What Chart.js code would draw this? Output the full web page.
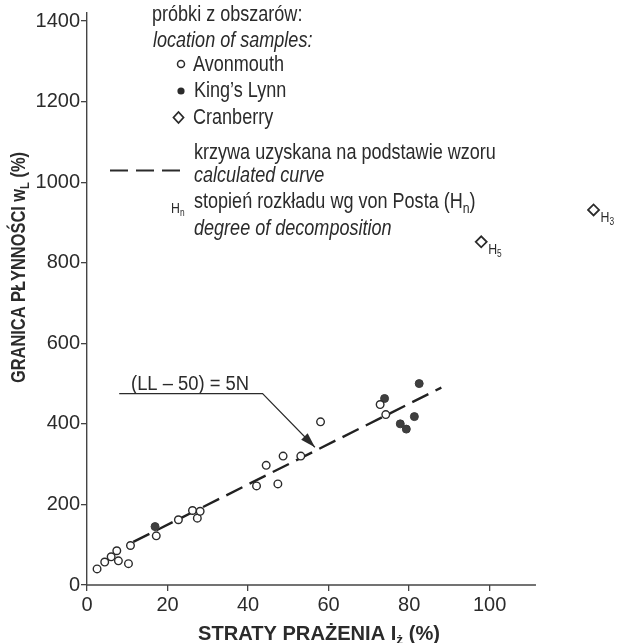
<!DOCTYPE html>
<html>
<head>
<meta charset="utf-8">
<script src="https://cdn.jsdelivr.net/npm/chart.js@4.4.1/dist/chart.umd.min.js"></script>
<style>
    html, body { margin: 0; padding: 0; background: #fff; }
    #wrap { width: 623px; height: 643px; }
</style>
</head>
<body>
<div id="wrap"><canvas id="chartGranica" width="623" height="643"></canvas></div>
<script>
// Dane (straty prażenia vs granica płynności)
const avonmouthX = [2.5, 4.4, 6.0, 7.4, 7.8, 10.3, 10.8, 17.2, 22.7, 26.2, 27.4, 28.1, 42.1, 44.5, 47.4, 48.7, 53.1, 58.0, 72.8, 74.2];
const avonmouthY = [40, 57, 70, 85, 60, 53, 98, 122, 162, 185, 166, 183, 246, 297, 251, 320, 320, 405, 448, 423];
const kingsLynnX = [16.9, 73.9, 77.8, 79.3, 81.3, 82.5];
const kingsLynnY = [145, 463, 400, 387, 418, 500];
const cranberryX = [97.9, 125.8];
const cranberryY = [852, 931];
const cranberryH = ['5', '3'];
const krzywaX = [11.5, 88];
const krzywaY = [107, 490];
const xTicks = [0, 20, 40, 60, 80, 100];
const yTicks = [0, 200, 400, 600, 800, 1000, 1200, 1400];

const kolorTekstu = '#2b2b2b';
const fontBaza = '"Liberation Sans", Arial, Helvetica, sans-serif';

function punkty(xs, ys) {
    return xs.map((x, i) => ({ x: x, y: ys[i] }));
}

// tekst zwężony w poziomie (jak Helvetica Narrow)
function tekst(ctx, txt, x, y, font, skala) {
    ctx.save();
    ctx.font = font;
    ctx.translate(x, y);
    ctx.scale(skala, 1);
    ctx.fillText(txt, 0, 0);
    const w = ctx.measureText(txt).width * skala;
    ctx.restore();
    return w;
}

// tekst z indeksem dolnym: czesci [tekst, czyIndeks]
function tekstZIndeksem(ctx, czesci, x, y, rozmiar, styl, skala) {
    let pos = x;
    czesci.forEach(([t, sub]) => {
        const r = sub ? rozmiar * 0.68 : rozmiar;
        const dy = sub ? rozmiar * 0.22 : 0;
        pos += tekst(ctx, t, pos, y + dy, `${styl} ${r}px ${fontBaza}`, skala);
    });
    return pos - x;
}

function szerokoscZIndeksem(ctx, czesci, rozmiar, styl) {
    let w = 0;
    ctx.save();
    czesci.forEach(([t, sub]) => {
        const r = sub ? rozmiar * 0.68 : rozmiar;
        ctx.font = `${styl} ${r}px ${fontBaza}`;
        w += ctx.measureText(t).width;
    });
    ctx.restore();
    return w;
}

const rysunekPlugin = {
    id: 'rysunek',
    beforeDatasetsDraw(chart) {
        const ctx = chart.ctx;
        const sx = chart.scales.x, sy = chart.scales.y;
        // oś X tylko do ok. 112%
        ctx.save();
        ctx.strokeStyle = '#444';
        ctx.lineWidth = 1.4;
        ctx.beginPath();
        ctx.moveTo(sx.getPixelForValue(0), sy.getPixelForValue(0));
        ctx.lineTo(sx.getPixelForValue(111.5), sy.getPixelForValue(0));
        ctx.stroke();
        ctx.restore();
    },
    afterDraw(chart) {
        const ctx = chart.ctx;
        const sx = chart.scales.x, sy = chart.scales.y;
        const n = 0.82;
        ctx.save();
        ctx.fillStyle = kolorTekstu;
        ctx.strokeStyle = kolorTekstu;
        ctx.textBaseline = 'alphabetic';
        ctx.textAlign = 'left';

        // legenda
        const fN = `22px ${fontBaza}`;
        const fI = `italic 22px ${fontBaza}`;
        tekst(ctx, 'próbki z obszarów:', 152, 21, fN, n);
        tekst(ctx, 'location of samples:', 153, 47, fI, n);
        tekst(ctx, 'Avonmouth', 193, 71, fN, n);
        tekst(ctx, 'King\u2019s Lynn', 194, 97, fN, n);
        tekst(ctx, 'Cranberry', 193, 124, fN, n);
        tekst(ctx, 'krzywa uzyskana na podstawie wzoru', 194, 159, fN, n);
        tekst(ctx, 'calculated curve', 194, 182, fI, n);
        tekstZIndeksem(ctx, [['stopień rozkładu wg von Posta (H', false], ['n', true], [')', false]], 194, 208, 22, '', n);
        tekst(ctx, 'degree of decomposition', 194, 235, fI, n);
        tekstZIndeksem(ctx, [['H', false], ['n', true]], 171, 213, 15, '', n);

        // symbole legendy
        ctx.lineWidth = 1.5;
        ctx.beginPath(); ctx.arc(181, 64, 3.5, 0, Math.PI * 2); ctx.stroke();
        ctx.beginPath(); ctx.arc(181, 91, 3.6, 0, Math.PI * 2); ctx.fill();
        ctx.lineWidth = 1.8;
        ctx.beginPath();
        ctx.moveTo(178.5, 112); ctx.lineTo(183.5, 117.5); ctx.lineTo(178.5, 123); ctx.lineTo(173.5, 117.5);
        ctx.closePath(); ctx.stroke();
        ctx.lineWidth = 2.2;
        ctx.setLineDash([18, 8]);
        ctx.beginPath(); ctx.moveTo(110, 170.5); ctx.lineTo(182, 170.5); ctx.stroke();
        ctx.setLineDash([]);

        // opisy H przy punktach Cranberry
        cranberryX.forEach((x, i) => {
            const px = sx.getPixelForValue(x), py = sy.getPixelForValue(cranberryY[i]);
            tekstZIndeksem(ctx, [['H', false], [cranberryH[i], true]], px + 7, py + 12, 15, '', n);
        });

        // adnotacja ze wzorem
        const x0 = sx.getPixelForValue(8), yL = sy.getPixelForValue(475);
        const xb = sx.getPixelForValue(43.6);
        const xt = sx.getPixelForValue(56.6), yt = sy.getPixelForValue(342);
        ctx.lineWidth = 1.2;
        ctx.beginPath();
        ctx.moveTo(x0, yL); ctx.lineTo(xb, yL); ctx.lineTo(xt, yt);
        ctx.stroke();
        const kat = Math.atan2(yt - yL, xt - xb);
        ctx.beginPath();
        ctx.moveTo(xt, yt);
        ctx.lineTo(xt - 15 * Math.cos(kat) + 4.5 * Math.sin(kat), yt - 15 * Math.sin(kat) - 4.5 * Math.cos(kat));
        ctx.lineTo(xt - 15 * Math.cos(kat) - 4.5 * Math.sin(kat), yt - 15 * Math.sin(kat) + 4.5 * Math.cos(kat));
        ctx.closePath(); ctx.fill();
        tekst(ctx, '(LL \u2013 50) = 5N', 131, 390, `20px ${fontBaza}`, 0.92);

        // tytuł osi X
        const czesciX = [['STRATY PRAŻENIA I', false], ['ż', true], [' (%)', false]];
        const wX = szerokoscZIndeksem(ctx, czesciX, 20, 'bold');
        const skX = 242 / wX;
        tekstZIndeksem(ctx, czesciX, 319 - 121, 640, 20, 'bold', skX);

        // tytuł osi Y
        const czesciY = [['GRANICA PŁYNNOŚCI w', false], ['L', true], [' (%)', false]];
        const wY = szerokoscZIndeksem(ctx, czesciY, 20, 'bold');
        const skY = 231 / wY;
        ctx.save();
        ctx.translate(25, 267.5);
        ctx.rotate(-Math.PI / 2);
        tekstZIndeksem(ctx, czesciY, -115.5, 0, 20, 'bold', skY);
        ctx.restore();

        ctx.restore();
    }
};

function criarWykres() {
    const canvas = document.getElementById('chartGranica');
    new Chart(canvas, {
        type: 'scatter',
        data: {
            datasets: [{
                label: 'Avonmouth',
                data: punkty(avonmouthX, avonmouthY),
                pointStyle: 'circle',
                pointRadius: 3.8,
                pointBorderWidth: 1.4,
                pointBorderColor: '#2b2b2b',
                pointBackgroundColor: '#fff',
                order: 0
            }, {
                label: 'King\u2019s Lynn',
                data: punkty(kingsLynnX, kingsLynnY),
                pointStyle: 'circle',
                pointRadius: 4,
                pointBorderWidth: 1,
                pointBorderColor: '#3a3a3a',
                pointBackgroundColor: '#3f3f3f',
                order: 0
            }, {
                label: 'Cranberry',
                data: punkty(cranberryX, cranberryY),
                pointStyle: 'rectRot',
                pointRadius: 5.5,
                pointBorderWidth: 1.8,
                pointBorderColor: '#2b2b2b',
                pointBackgroundColor: '#fff',
                order: 0
            }, {
                type: 'line',
                label: 'krzywa',
                data: punkty(krzywaX, krzywaY),
                borderColor: '#222',
                borderWidth: 2.4,
                borderDash: [18, 8],
                pointRadius: 0,
                fill: false,
                order: 2
            }]
        },
        options: {
            responsive: false,
            animation: false,
            devicePixelRatio: 1,
            layout: { padding: { top: 12, right: 0, left: 0, bottom: 0 } },
            plugins: {
                legend: { display: false },
                tooltip: { enabled: false }
            },
            scales: {
                x: {
                    type: 'linear',
                    min: 0,
                    max: 131.3,
                    afterBuildTicks: (scale) => { scale.ticks = xTicks.map(v => ({ value: v })); },
                    afterFit: (scale) => { scale.height = 58; },
                    border: { display: false },
                    grid: { drawOnChartArea: false, drawTicks: true, tickLength: 6, color: '#444', lineWidth: 1.3 },
                    ticks: {
                        color: '#2b2b2b', font: { family: fontBaza, size: 20 }, padding: 2, maxRotation: 0,
                        callback: function(value) { return String(value); }
                    }
                },
                y: {
                    type: 'linear',
                    min: 0,
                    max: 1420,
                    afterBuildTicks: (scale) => { scale.ticks = yTicks.map(v => ({ value: v })); },
                    afterFit: (scale) => { scale.width = 87; },
                    border: { display: true, color: '#444', width: 1.4 },
                    grid: { drawOnChartArea: false, drawTicks: true, tickLength: 6, color: '#444', lineWidth: 1.3 },
                    ticks: {
                        color: '#2b2b2b', font: { family: fontBaza, size: 20 }, padding: 1,
                        callback: function(value) { return String(value); }
                    }
                }
            }
        },
        plugins: [rysunekPlugin]
    });
}

criarWykres();
</script>
</body>
</html>
